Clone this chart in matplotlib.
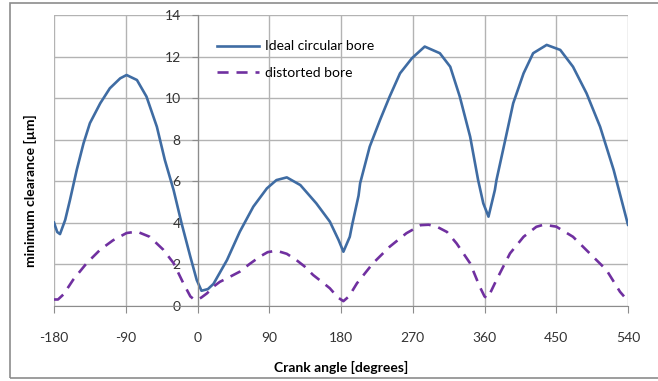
import matplotlib.pyplot as plt
from matplotlib.patches import Rectangle

plt.rcParams['font.family'] = ['Lato', 'DejaVu Sans']
plt.rcParams['axes.unicode_minus'] = False

# crank angle [deg] / minimum clearance [um]
ideal_angle = [-180, -176, -172.5, -166, -160, -151.5, -143, -135, -122, -110, -97, -89,
               -76, -64, -51, -41, -30, -20, -9, -1, 5, 13, 20, 37, 53, 70, 87, 99, 112,
               129, 149, 166, 177, 183, 191, 194, 202, 204, 216, 229, 241, 254, 269, 285,
               304, 317, 329, 342, 352, 358.5, 365, 373, 375, 386, 396, 409, 421, 438, 455,
               471, 488, 505, 522, 540]
ideal_clear = [4.0, 3.55, 3.45, 4.13, 5.09, 6.54, 7.82, 8.79, 9.75, 10.47, 10.95, 11.11,
               10.87, 10.07, 8.62, 7.02, 5.57, 3.97, 2.36, 1.24, 0.72, 0.8, 1.05, 2.2, 3.56,
               4.77, 5.65, 6.05, 6.18, 5.81, 4.93, 4.05, 3.16, 2.6, 3.32, 3.9, 5.3, 5.9,
               7.66, 8.95, 10.07, 11.19, 11.92, 12.48, 12.16, 11.51, 10.07, 8.14, 6.05, 4.93,
               4.29, 5.57, 6.05, 7.98, 9.75, 11.19, 12.16, 12.56, 12.32, 11.51, 10.23, 8.62,
               6.54, 3.9]

dist_angle = [-180, -175, -168, -156, -139, -122, -106, -89, -76, -60, -43, -30, -18, -9,
              -5, 0, 5, 12, 20, 28, 37, 45, 53, 65, 78, 88, 99, 112, 124, 134, 145, 156,
              166, 176, 183, 190, 200, 220, 241, 262, 280, 290, 300, 313, 325, 342, 354,
              360, 363, 367, 375, 392, 409, 425, 434, 450, 471, 492, 513, 530, 535]
dist_clear = [0.3, 0.3, 0.55, 1.25, 2.05, 2.7, 3.15, 3.5, 3.57, 3.32, 2.7, 2.05, 1.1,
              0.45, 0.32, 0.28, 0.4, 0.6, 0.92, 1.15, 1.32, 1.48, 1.64, 2.0, 2.36, 2.58,
              2.65, 2.5, 2.2, 1.9, 1.48, 1.15, 0.84, 0.4, 0.22, 0.45, 1.08, 2.04, 2.84,
              3.49, 3.88, 3.9, 3.81, 3.55, 3.0, 2.04, 0.92, 0.45, 0.36, 0.6, 1.24, 2.52,
              3.32, 3.8, 3.9, 3.81, 3.32, 2.52, 1.72, 0.67, 0.45]

x_ticks = [-180, -90, 0, 90, 180, 270, 360, 450, 540]
y_ticks = [0, 2, 4, 6, 8, 10, 12, 14]

fig = plt.figure(figsize=(6.58, 3.81), dpi=100)
ax = fig.add_axes([0.0821, 0.1976, 0.8723, 0.763])

# chart frame
fig.patches.append(Rectangle((10 / 658, 3 / 381), 1.0, 375 / 381, transform=fig.transFigure,
                             fill=False, edgecolor='#8c8c8c', lw=1.2))

ax.plot(ideal_angle, ideal_clear, color='#3f6ca3', lw=1.9, solid_joinstyle='round',
        label='Ideal circular bore')
ax.plot(dist_angle, dist_clear, color='#7030a0', lw=1.9, dashes=(4.2, 3),
        dash_joinstyle='round', label='distorted bore')

ax.set_xlim(-180, 540)
ax.set_ylim(0, 14)
ax.set_xticks(x_ticks)
ax.set_yticks(y_ticks)
ax.grid(True, color='#b3b3b3', lw=1.0)
ax.set_axisbelow(True)

for s in ['top', 'right']:
    ax.spines[s].set_visible(False)
ax.spines['left'].set_position(('data', 0))
ax.spines['left'].set_color('#8c8c8c')
ax.spines['bottom'].set_color('#8c8c8c')
ax.tick_params(axis='x', length=5, color='#8c8c8c', pad=14, labelsize=10, labelcolor='#333333')
ax.tick_params(axis='y', length=4, color='#8c8c8c', pad=8, labelsize=10, labelcolor='#333333')

ax.set_xlabel('Crank angle [degrees]', fontweight='bold', fontsize=10, labelpad=12)
fig.text(0.046, 0.5, 'minimum clearance [µm]', rotation=90, fontweight='bold', fontsize=10,
         ha='center', va='center')

ax.legend(loc='upper left', bbox_to_anchor=(205 / 658, 1 - 28 / 381),
          bbox_transform=fig.transFigure, frameon=False, fontsize=10,
          handlelength=3.0, handletextpad=0.4, labelspacing=1.05)

fig.savefig('out.png', dpi=100)
